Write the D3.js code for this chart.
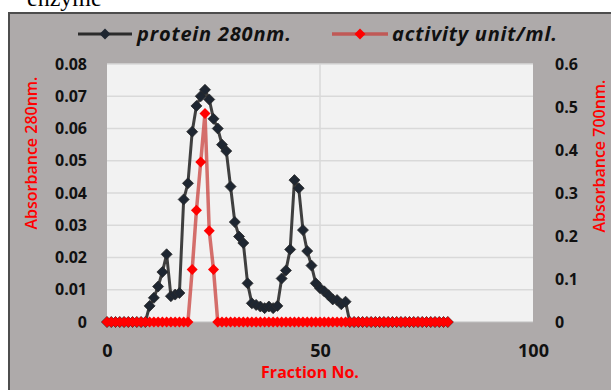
<!DOCTYPE html>
<html>
<head>
<meta charset="utf-8">
<script src="https://cdn.jsdelivr.net/npm/d3@7"></script>
<style>
html,body{margin:0;padding:0;background:#fff;}
svg{display:block;}
</style>
</head>
<body>
<svg id="chart" width="611" height="390"></svg>
<script>
// ---- data ----
const fractions = d3.range(0, 81);
const protein = [
  0,0,0,0,0,0,0,0,0,0,            // 0-9
  0.005,0.0075,0.011,0.0155,0.021,0.008,0.0085,0.009,0.038,0.043, // 10-19
  0.059,0.067,0.070,0.072,0.069,0.063,0.060,0.055,0.053,0.042,    // 20-29
  0.031,0.0265,0.0245,0.012,0.0058,0.0053,0.0048,0.0043,0.0048,0.0043, // 30-39
  0.005,0.0135,0.016,0.0225,0.044,0.0415,0.0285,0.022,0.0175,0.012,   // 40-49
  0.0105,0.0095,0.0083,0.007,0.0068,0.0055,0.0063,0,0,0,          // 50-59
  0,0,0,0,0,0,0,0,0,0,            // 60-69
  0,0,0,0,0,0,0,0,0,0,0           // 70-80
];
const activity = [
  0,0,0,0,0,0,0,0,0,0,
  0,0,0,0,0,0,0,0,0,0,
  0.122,0.26,0.372,0.485,0.212,0.122,0,0,0,0,
  0,0,0,0,0,0,0,0,0,0,
  0,0,0,0,0,0,0,0,0,0,
  0,0,0,0,0,0,0,0,0,0,
  0,0,0,0,0,0,0,0,0,0,
  0,0,0,0,0,0,0,0,0,0,0
];
const leftTicks = [0,0.01,0.02,0.03,0.04,0.05,0.06,0.07,0.08];
const rightTicks = [0,0.1,0.2,0.3,0.4,0.5,0.6];
const xTicks = [0,50,100];
const seriesNames = ["protein 280nm.","activity unit/ml."];

// ---- layout ----
const svg = d3.select("#chart");
const L = 107, R = 533, T = 64, B = 322;
const x = d3.scaleLinear().domain([0,100]).range([L,R]);
const yL = d3.scaleLinear().domain([0,0.08]).range([B,T]);
const yR = d3.scaleLinear().domain([0,0.6]).range([B,T]);

// caption fragment above
svg.append("text").attr("x",27).attr("y",6)
  .attr("font-family","Liberation Serif, serif").attr("font-size",24)
  .attr("fill","#000").text("enzyme");

// outer chart box
svg.append("rect").attr("x",9).attr("y",13).attr("width",610).attr("height",390)
  .attr("fill","#aeaaaa").attr("stroke","#4d4d4d").attr("stroke-width",2);

// plot area
svg.append("rect").attr("x",L).attr("y",T).attr("width",R-L).attr("height",B-T)
  .attr("fill","#f2f2f2");

// grid
const g = svg.append("g");
g.selectAll("line.h").data(leftTicks.slice(1)).enter().append("line")
  .attr("x1",L).attr("x2",R).attr("y1",d=>yL(d)).attr("y2",d=>yL(d))
  .attr("stroke","#d9d9d9").attr("stroke-width",1.5);
g.selectAll("line.v").data([50]).enter().append("line")
  .attr("x1",d=>x(d)).attr("x2",d=>x(d)).attr("y1",T).attr("y2",B)
  .attr("stroke","#d9d9d9").attr("stroke-width",1.5);
g.append("line").attr("x1",L).attr("x2",R).attr("y1",B).attr("y2",B)
  .attr("stroke","#bfbfbf").attr("stroke-width",1);

// axes (text only)
const tickFont = "'Open Sans', 'DejaVu Sans', sans-serif";
const axL = d3.axisLeft(yL).tickValues(leftTicks).tickSize(0).tickPadding(0)
  .tickFormat(d=> d===0 ? "0" : d3.format(".2f")(d));
const gl = svg.append("g").attr("transform",`translate(87,0)`).call(axL);
const axR = d3.axisRight(yR).tickValues(rightTicks).tickSize(0).tickPadding(0)
  .tickFormat(d=> d===0 ? "0" : d3.format(".1f")(d));
const gr = svg.append("g").attr("transform",`translate(555,0)`).call(axR);
const axB = d3.axisBottom(x).tickValues(xTicks).tickSize(0).tickPadding(0)
  .tickFormat(d3.format("d"));
const gb = svg.append("g").attr("transform",`translate(0,344)`).call(axB);
[gl,gr,gb].forEach(a=>{
  a.select(".domain").remove();
  a.selectAll("text").attr("font-family",tickFont).attr("font-weight","bold")
    .attr("fill","#111");
});
gl.selectAll("text").attr("font-size",16);
gr.selectAll("text").attr("font-size",16);
gb.selectAll("text").attr("font-size",18);

// axis titles
svg.append("text").attr("transform","translate(37,153) rotate(-90)")
  .attr("text-anchor","middle").attr("font-family",tickFont).attr("font-size",16)
  .attr("font-weight",600).attr("fill","#ff0000").text("Absorbance 280nm.");
svg.append("text").attr("transform","translate(605,156) rotate(-90)")
  .attr("text-anchor","middle").attr("font-family",tickFont).attr("font-size",16)
  .attr("font-weight",600).attr("fill","#ff0000").text("Absorbance 700nm.");
svg.append("text").attr("x",310).attr("y",378)
  .attr("text-anchor","middle").attr("font-family",tickFont).attr("font-size",16)
  .attr("font-weight","bold").attr("fill","#ff0000").text("Fraction No.");

// diamond path
const diamond = r => `M0,${-r}L${r},0L0,${r}L${-r},0Z`;

// protein series
const lineP = d3.line().x((d,i)=>x(fractions[i])).y(d=>yL(d));
svg.append("path").datum(protein).attr("d",lineP).attr("fill","none")
  .attr("stroke","#2b2b2b").attr("stroke-opacity",0.9).attr("stroke-width",3);
svg.append("g").selectAll("path").data(protein).enter().append("path")
  .attr("transform",(d,i)=>`translate(${x(fractions[i])},${yL(d)})`)
  .attr("d",diamond(5.5)).attr("fill","#1e2631").attr("stroke","#2b2b2b").attr("stroke-width",0.8);

// activity series
const lineA = d3.line().x((d,i)=>x(fractions[i])).y(d=>yR(d));
svg.append("path").datum(activity).attr("d",lineA).attr("fill","none")
  .attr("stroke","#c83a36").attr("stroke-opacity",0.72).attr("stroke-width",3.5);
svg.append("g").selectAll("path").data(activity).enter().append("path")
  .attr("transform",(d,i)=>`translate(${x(fractions[i])},${yR(d)})`)
  .attr("d",diamond(5.5)).attr("fill","#ff0000");

// legend
const leg = svg.append("g");
leg.append("line").attr("x1",78).attr("x2",132).attr("y1",34).attr("y2",34)
  .attr("stroke","#2b2b2b").attr("stroke-width",3);
leg.append("path").attr("transform","translate(105,34)").attr("d",diamond(5.5)).attr("fill","#1e2631");
leg.append("text").attr("x",137).attr("y",41).attr("font-family",tickFont)
  .attr("font-size",20).attr("letter-spacing",0.8).attr("font-style","italic").attr("font-weight","bold")
  .attr("fill","#111").text(seriesNames[0]);
leg.append("line").attr("x1",332).attr("x2",388).attr("y1",34).attr("y2",34)
  .attr("stroke","#c83a36").attr("stroke-opacity",0.72).attr("stroke-width",3.5);
leg.append("path").attr("transform","translate(360,34)").attr("d",diamond(5.5)).attr("fill","#ff0000");
leg.append("text").attr("x",392).attr("y",41).attr("font-family",tickFont)
  .attr("font-size",20).attr("letter-spacing",0.8).attr("font-style","italic").attr("font-weight","bold")
  .attr("fill","#111").text(seriesNames[1]);
</script>
</body>
</html>
